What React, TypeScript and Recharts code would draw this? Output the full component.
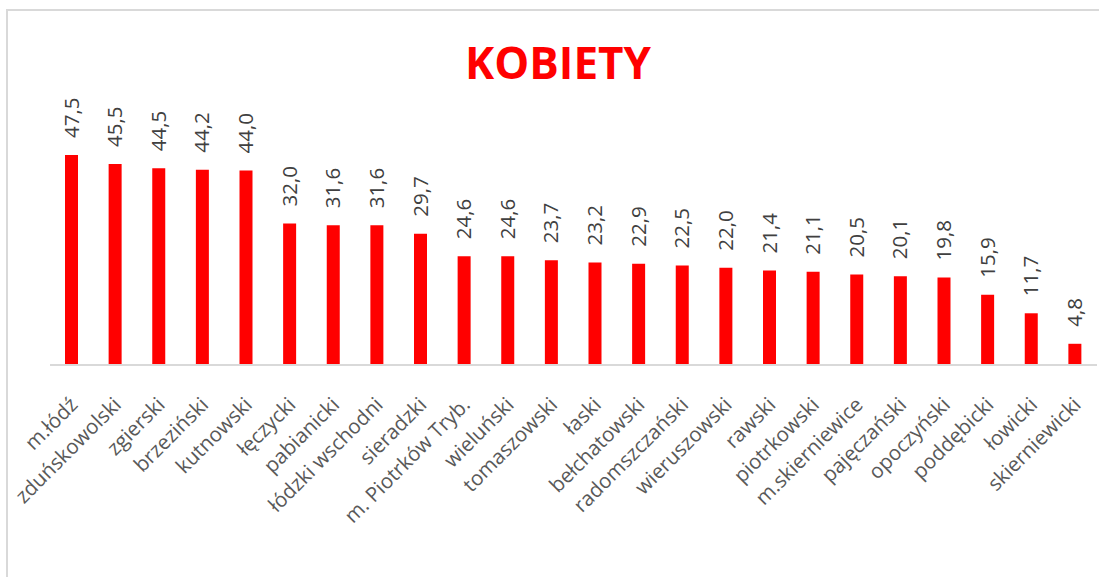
import { BarChart, Bar, XAxis, YAxis, LabelList } from "recharts";

const categories = [
  "m.łódź", "zduńskowolski", "zgierski", "brzeziński", "kutnowski", "łęczycki",
  "pabianicki", "łódzki wschodni", "sieradzki", "m. Piotrków Tryb.", "wieluński",
  "tomaszowski", "łaski", "bełchatowski", "radomszczański", "wieruszowski", "rawski",
  "piotrkowski", "m.skierniewice", "pajęczański", "opoczyński", "poddębicki",
  "łowicki", "skierniewicki",
];
const values = [
  47.5, 45.5, 44.5, 44.2, 44.0, 32.0, 31.6, 31.6, 29.7, 24.6, 24.6, 23.7,
  23.2, 22.9, 22.5, 22.0, 21.4, 21.1, 20.5, 20.1, 19.8, 15.9, 11.7, 4.8,
];
const yDomain = [0, 50];
const title = "KOBIETY";

const data = categories.map((name, i) => ({ name, value: values[i] }));
const FONT = "'Open Sans', sans-serif";

const CategoryTick = ({ x, y, payload }: any) => (
  <g transform={`translate(${x + 7},${y + 33})`}>
    <text x={0} y={0} textAnchor="end" transform="rotate(-45)"
          fill="#595959" fontSize={20.5} fontFamily={FONT}>
      {payload.value}
    </text>
  </g>
);

const ValueLabel = ({ x, y, width, value }: any) => (
  <g transform={`translate(${x + width / 2},${y - 17})`}>
    <text x={0} y={0} dy={7} textAnchor="start" transform="rotate(-90)"
          fill="#404040" fontSize={20.5} fontFamily={FONT}>
      {Number(value).toFixed(1).replace(".", ",")}
    </text>
  </g>
);

export default function App() {
  return (
    <div style={{ position: "absolute", left: 0, top: 0, width: 1099, height: 577,
                  overflow: "hidden", background: "#fff" }}>
      <div style={{ position: "absolute", left: 6, top: 9, width: 1200, height: 700,
                    borderLeft: "2px solid #d9d9d9", borderTop: "2px solid #d9d9d9" }} />
      <div style={{ position: "absolute", left: 358, top: 40, width: 400, textAlign: "center",
                    fontFamily: FONT, fontWeight: 700, fontSize: 44, lineHeight: 1,
                    color: "#ff0000" }}>
        {title}
      </div>
      <div style={{ position: "absolute", left: 0, top: 0 }}>
        <BarChart width={1099} height={577} data={data}
                  margin={{ top: 144, right: 2, bottom: 12, left: 50 }}>
          <XAxis dataKey="name" interval={0} height={200} tickLine={false}
                 axisLine={{ stroke: "#d9d9d9", strokeWidth: 2 }} tick={<CategoryTick />} />
          <YAxis hide domain={yDomain} />
          <Bar dataKey="value" fill="#ff0000" barSize={13} isAnimationActive={false}>
            <LabelList dataKey="value" content={<ValueLabel />} />
          </Bar>
        </BarChart>
      </div>
    </div>
  );
}
